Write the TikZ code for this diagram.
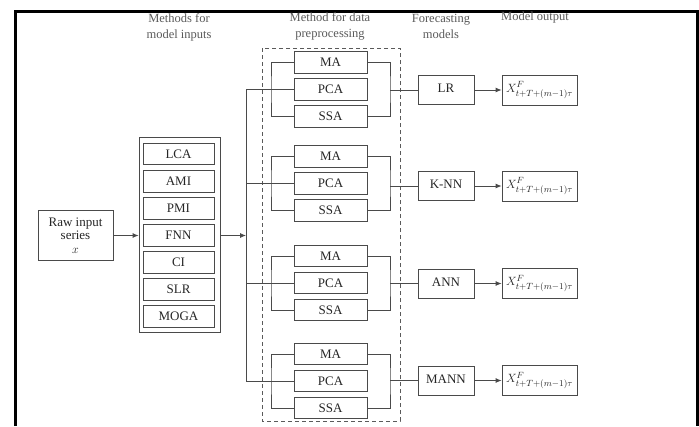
\documentclass[tikz,border=0pt]{standalone}
\usepackage{fontspec}
\setmainfont{Liberation Serif}
\usetikzlibrary{arrows.meta}
\definecolor{ink}{HTML}{262626}
\definecolor{edge}{HTML}{4A4A4A}
\definecolor{hdr}{HTML}{5A5A5A}
\begin{document}
\begin{tikzpicture}[x=1pt,y=-1pt,
  lbl/.style={font=\fontsize{13}{14}\selectfont, text=ink},
  box/.style={draw=edge, line width=0.8pt, inner sep=0pt, lbl},
  smallbox/.style={box, minimum width=73, minimum height=21.5},
  methodbox/.style={box, minimum width=71, minimum height=21.5},
  fcbox/.style={box, minimum width=56, minimum height=29},
  outbox/.style={box, minimum width=75, minimum height=30},
  hdrtext/.style={font=\fontsize{12.5}{16}\selectfont, text=hdr, align=center},
  wire/.style={draw=edge, line width=0.8pt},
  arr/.style={wire, -{Latex[length=6pt,width=5pt]}},
  frame/.style={line width=3pt, black}]
\useasboundingbox (0,0) rectangle (699,426);

% outer frame
\draw[frame] (15,426) -- (15,11) -- (697,11) -- (697,426);

% column headings
\node[hdrtext] (h1) at (179,27) {Methods for\\model inputs};
\node[hdrtext] (h2) at (330,26) {Method for data\\preprocessing};
\node[hdrtext] (h3) at (441,26) {Forecasting\\models};
\node[hdrtext] (h4) at (535,17) {Model output};

% raw input
\node[box, minimum width=75, minimum height=50, align=center,
      font=\fontsize{13}{13.5}\selectfont] (raw) at (75.5,235.5)
  {Raw input\\series\\$x$};

% methods for model inputs
\node[draw=edge, line width=0.8pt, minimum width=81, minimum height=195, inner sep=0pt]
  (mbox) at (179.5,234.5) {};
\foreach \n/\t/\y in {m1/LCA/154, m2/AMI/181.5, m3/PMI/208.5, m4/FNN/235.5,
                      m5/CI/262.5, m6/SLR/289.5, m7/MOGA/316.5}
  \node[methodbox] (\n) at (178.5,\y) {\t};

\draw[arr] (raw.east) -- (raw.east -| mbox.west);

% branching trunk
\coordinate (split) at (246,235.5);
\draw[arr] (mbox.east |- split) -- (split);

% preprocessing frame
\draw[draw=hdr, line width=0.8pt, dashed, dash pattern=on 4pt off 3pt]
  (262,48) rectangle (400,421);

% preprocessing groups, forecasting models and outputs
\foreach \i/\y/\fy/\f in {1/89.5/90/LR, 2/183.5/186/K-NN, 3/283/283.5/ANN, 4/381/380.5/MANN} {
  \node[smallbox] (g\i ma)  at (330.5,\y-27) {MA};
  \node[smallbox] (g\i pca) at (330.5,\y)    {PCA};
  \node[smallbox] (g\i ssa) at (330.5,\y+27) {SSA};
  \coordinate (lb\i) at (271,\y);
  \coordinate (rb\i) at (390,\y);
  \node[fcbox]  (f\i) at (446,\fy) {\raisebox{3pt}{\f}};
  \node[outbox] (o\i) at (539.5,\fy) {$X^{F}_{t+T+(m-1)\tau}$};
  % left bracket feeding the three filters
  \draw[wire] (g\i ma.west) -| (lb\i) |- (g\i ssa.west);
  \draw[wire] (split |- g\i pca) -- (g\i pca.west);
  % right bracket collecting the filters
  \draw[wire] (g\i ma.east) -| (rb\i) |- (g\i ssa.east);
  \draw[wire] (rb\i |- f\i) -- (f\i.west);
  \draw[arr] (f\i.east) -- (o\i.west);
}
\draw[wire] (split |- g1pca) -- (split |- g4pca);
\end{tikzpicture}
\end{document}
